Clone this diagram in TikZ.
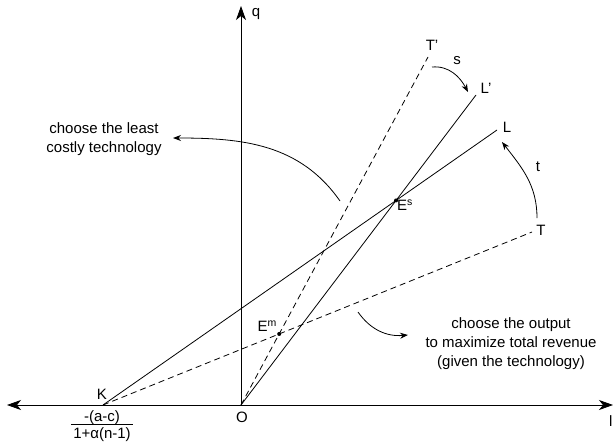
\documentclass[tikz,border=0pt]{standalone}
\usepackage{fontspec}
\setmainfont{Liberation Sans}
\usetikzlibrary{arrows.meta,positioning}

\begin{document}
\begin{tikzpicture}[
    x=1pt, y=-1pt,
    >={Stealth[length=8pt, width=6pt]},
    every node/.style={inner sep=1pt, font=\fontsize{15}{19}\selectfont},
    axisline/.style={-{Stealth[length=14pt, width=10pt, inset=4pt]}, line width=0.8pt},
    techline/.style={line width=0.8pt},
    sline/.style={line width=0.8pt, dash pattern=on 6pt off 4pt},
    turnarrow/.style={->, line width=0.8pt},
    eqdot/.style={circle, fill=black, inner sep=0pt, minimum size=4pt}
]
\useasboundingbox (0,0) rectangle (613,442);

\coordinate (O)  at (241,405);
\coordinate (K)  at (103,405);
\coordinate (L)  at (497,130);
\coordinate (Lp) at (476,95);
\coordinate (Tp) at (428,57);
\coordinate (T)  at (532,232);

% axes
\draw[axisline] (O) -- (241,6) coordinate (qtop);
\draw[axisline] (O) -- (613,405) coordinate (xright);
\draw[axisline] (O) -- (7,405) coordinate (xleft);
\node (qlab) at (256,14) {q};
\node[anchor=west, inner sep=0pt] (xlab) at (609,421) {l};

% lines
\draw[techline] (K) -- (L);
\draw[techline] (O) -- (Lp);
\draw[sline] (K) -- (T);
\draw[sline] (O) -- (Tp);

\node (Klab)  at (102,394) {K};
\node (Olab)  at (242,417) {O};
\node (Llab)  at (507,127) {L};
\node (Lplab) at (486,88)  {L'};
\node (Tplab) at (432,45)  {T'};
\node (Tlab)  at (541,230) {T};
\node (frac)  at (102,426) {\begin{tabular}{@{\,}c@{\,}}-(a-c)\\[-3pt]\hline 1+α(n-1)\end{tabular}};

% equilibria
\node[eqdot] (Es) at (intersection of K--L and O--Lp) {};
\node[eqdot] (Em) at (intersection of K--T and O--Tp) {};
\node[anchor=north west, inner sep=0pt] (Eslab) at ([xshift=1pt, yshift=1pt]Es) {E\textsuperscript{s}};
\node[anchor=south east, inner sep=0pt] (Emlab) at ([xshift=-2pt, yshift=2pt]Em) {E\textsuperscript{m}};

% rotations
\coordinate (s0) at (432,67);
\coordinate (s1) at (468,92);
\draw[turnarrow] (s0) to[out=5, in=118] (s1);
\node (slab) at (457,61) {s};

\coordinate (t0) at (537,218);
\coordinate (t1) at (502,142);
\draw[turnarrow] (t0) to[out=90, in=-52] (t1);
\node (tlab) at (538,167) {t};

% explanations
\node[align=center] (cost) at (104,139) {choose the least\\costly technology};
\coordinate (c0) at (340,201);
\coordinate (c1) at (173,138);
\draw[turnarrow] (c0) to[out=125, in=0] (c1);

\node[align=center] (rev) at (511,344) {choose the output\\to maximize total revenue\\(given the technology)};
\coordinate (r0) at (358,312);
\coordinate (r1) at (408,335);
\draw[turnarrow] (r0) to[out=-55, in=185] (r1);
\end{tikzpicture}
\end{document}
